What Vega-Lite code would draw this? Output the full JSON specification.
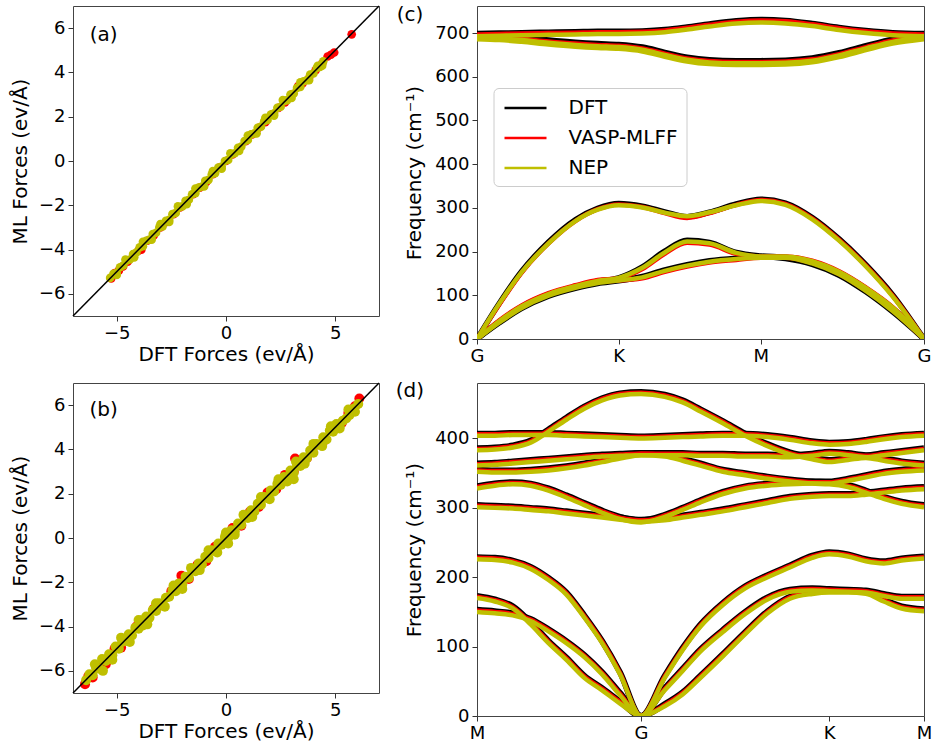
{
"$schema": "https://vega.github.io/schema/vega-lite/v6.json",
"background": "white",
"padding": {"left": 9, "top": 4, "right": 5, "bottom": 5},
"config": {
 "font": "DejaVu Sans",
 "view": {"stroke": "#444", "strokeWidth": 1},
 "axis": {"grid": false, "domain": false, "tickColor": "#333", "tickSize": 5, "labelFontSize": 18, "titleFontSize": 20, "labelFont": "DejaVu Sans", "titleFont": "DejaVu Sans", "titleFontWeight": "normal", "labelColor": "#000", "titleColor": "#000", "labelPadding": 3, "labelFlush": false, "labelOverlap": false},
 "axisX": {"titlePadding": 2},
 "axisY": {"titlePadding": 8}
},
"columns": 2,
"align": "each",
"bounds": "flush",
"spacing": {"row": 44, "column": 98},
"resolve": {"scale": {"color": "independent"}, "legend": {"color": "independent"}},
"datasets": {
 "aV": [{"x":-5.25,"y":-5.3},{"x":-5.09,"y":-5.06},{"x":-4.9,"y":-4.95},{"x":-4.71,"y":-4.76},{"x":-4.5,"y":-4.55},{"x":-4.2,"y":-4.2},{"x":-4.0,"y":-4.05},{"x":-3.87,"y":-4.0},{"x":-3.6,"y":-3.6},{"x":-3.3,"y":-3.35},{"x":-3.0,"y":-3.0},{"x":-2.7,"y":-2.75},{"x":-2.4,"y":-2.4},{"x":-2.1,"y":-2.1},{"x":-1.8,"y":-1.85},{"x":-1.5,"y":-1.5},{"x":-1.2,"y":-1.2},{"x":-0.9,"y":-0.95},{"x":-0.6,"y":-0.6},{"x":-0.3,"y":-0.3},{"x":0.0,"y":0.0},{"x":0.3,"y":0.3},{"x":0.6,"y":0.55},{"x":0.9,"y":0.9},{"x":1.2,"y":1.2},{"x":1.5,"y":1.5},{"x":1.8,"y":1.75},{"x":2.1,"y":2.1},{"x":2.4,"y":2.4},{"x":2.7,"y":2.65},{"x":3.0,"y":3.0},{"x":3.3,"y":3.38},{"x":3.5,"y":3.5},{"x":3.8,"y":3.75},{"x":4.1,"y":4.1},{"x":4.4,"y":4.4},{"x":4.65,"y":4.72},{"x":4.8,"y":4.8},{"x":4.95,"y":4.9},{"x":5.75,"y":5.72}],
 "aN": [{"x":-5.3,"y":-5.28},{"x":-5.15,"y":-5.1},{"x":-5.0,"y":-5.05},{"x":-4.85,"y":-4.8},{"x":-4.7,"y":-4.72},{"x":-4.55,"y":-4.5},{"x":-4.4,"y":-4.45},{"x":-4.25,"y":-4.2},{"x":-4.1,"y":-4.13},{"x":-3.95,"y":-3.9},{"x":-3.8,"y":-3.85},{"x":-3.65,"y":-3.6},{"x":-3.5,"y":-3.55},{"x":-3.35,"y":-3.3},{"x":-3.2,"y":-3.24},{"x":-3.05,"y":-3.0},{"x":-2.9,"y":-2.95},{"x":-2.75,"y":-2.7},{"x":-2.6,"y":-2.66},{"x":-2.45,"y":-2.4},{"x":-2.3,"y":-2.35},{"x":-2.15,"y":-2.1},{"x":-2.0,"y":-2.05},{"x":-1.85,"y":-1.8},{"x":-1.7,"y":-1.75},{"x":-1.55,"y":-1.5},{"x":-1.4,"y":-1.45},{"x":-1.25,"y":-1.2},{"x":-1.1,"y":-1.15},{"x":-0.95,"y":-0.9},{"x":-0.8,"y":-0.85},{"x":-0.65,"y":-0.6},{"x":-0.5,"y":-0.55},{"x":-0.35,"y":-0.3},{"x":-0.2,"y":-0.25},{"x":-0.05,"y":0.0},{"x":0.1,"y":0.05},{"x":0.25,"y":0.3},{"x":0.4,"y":0.35},{"x":0.55,"y":0.6},{"x":0.7,"y":0.65},{"x":0.85,"y":0.9},{"x":1.0,"y":0.95},{"x":1.15,"y":1.2},{"x":1.3,"y":1.25},{"x":1.45,"y":1.5},{"x":1.6,"y":1.55},{"x":1.75,"y":1.8},{"x":1.9,"y":1.85},{"x":2.05,"y":2.1},{"x":2.2,"y":2.15},{"x":2.35,"y":2.4},{"x":2.5,"y":2.45},{"x":2.65,"y":2.7},{"x":2.8,"y":2.75},{"x":2.95,"y":3.0},{"x":3.1,"y":3.05},{"x":3.25,"y":3.3},{"x":3.4,"y":3.35},{"x":3.55,"y":3.6},{"x":3.7,"y":3.65},{"x":3.85,"y":3.9},{"x":4.0,"y":3.95},{"x":4.15,"y":4.2},{"x":4.3,"y":4.25},{"x":4.45,"y":4.5},
{"x":-5.0,"y":-5.15},{"x":-4.6,"y":-4.45},{"x":-4.2,"y":-4.35},{"x":-3.8,"y":-3.65},{"x":-3.4,"y":-3.55},{"x":-3.0,"y":-2.85},{"x":-2.6,"y":-2.75},{"x":-2.2,"y":-2.05},{"x":-1.8,"y":-1.95},{"x":-1.4,"y":-1.25},{"x":-1.0,"y":-1.15},{"x":-0.6,"y":-0.45},{"x":-0.2,"y":-0.35},{"x":0.2,"y":0.35},{"x":0.6,"y":0.45},{"x":1.0,"y":1.15},{"x":1.4,"y":1.25},{"x":1.8,"y":1.95},{"x":2.2,"y":2.05},{"x":2.6,"y":2.75},{"x":3.0,"y":2.85},{"x":3.4,"y":3.55},{"x":3.8,"y":3.65},{"x":4.2,"y":4.3},{"x":4.4,"y":4.3}],
 "bV": [{"x":-6.45,"y":-6.6},{"x":-6.3,"y":-6.25},{"x":-6.1,"y":-6.3},{"x":-5.9,"y":-5.8},{"x":-5.5,"y":-5.7},{"x":-5.1,"y":-5.0},{"x":-4.8,"y":-4.95},{"x":-4.45,"y":-4.5},{"x":-4.1,"y":-4.0},{"x":-3.7,"y":-3.85},{"x":-3.3,"y":-3.2},{"x":-2.9,"y":-3.05},{"x":-2.5,"y":-2.4},{"x":-2.04,"y":-1.7},{"x":-1.7,"y":-1.85},{"x":-1.3,"y":-1.2},{"x":-0.9,"y":-1.05},{"x":-0.5,"y":-0.4},{"x":-0.1,"y":-0.2},{"x":0.3,"y":0.45},{"x":0.7,"y":0.55},{"x":1.1,"y":1.2},{"x":1.5,"y":1.4},{"x":1.9,"y":2.05},{"x":2.3,"y":2.2},{"x":2.7,"y":2.85},{"x":3.1,"y":3.0},{"x":3.16,"y":3.59},{"x":3.7,"y":3.6},{"x":4.1,"y":4.2},{"x":4.5,"y":4.4},{"x":4.9,"y":5.0},{"x":5.3,"y":5.2},{"x":5.6,"y":5.65},{"x":5.9,"y":5.95},{"x":6.1,"y":6.3}],
 "bN": [{"x":-6.4,"y":-6.42},{"x":-6.25,"y":-6.15},{"x":-6.1,"y":-6.2},{"x":-5.95,"y":-5.85},{"x":-5.8,"y":-5.9},{"x":-5.67,"y":-5.47},{"x":-5.63,"y":-6.0},{"x":-5.5,"y":-5.55},{"x":-5.35,"y":-5.25},{"x":-5.2,"y":-5.3},{"x":-5.05,"y":-4.9},{"x":-4.9,"y":-5.0},{"x":-4.75,"y":-4.7},{"x":-4.6,"y":-4.65},{"x":-4.45,"y":-4.35},{"x":-4.3,"y":-4.4},{"x":-4.15,"y":-4.05},{"x":-4.0,"y":-4.1},{"x":-3.85,"y":-3.72},{"x":-3.8,"y":-3.95},{"x":-3.65,"y":-3.55},{"x":-3.5,"y":-3.6},{"x":-3.35,"y":-3.25},{"x":-3.2,"y":-3.3},{"x":-3.05,"y":-2.95},{"x":-2.9,"y":-3.0},{"x":-2.75,"y":-2.7},{"x":-2.6,"y":-2.65},{"x":-2.45,"y":-2.35},{"x":-2.3,"y":-2.4},{"x":-2.15,"y":-2.05},{"x":-2.0,"y":-2.1},{"x":-1.85,"y":-1.75},{"x":-1.7,"y":-1.8},{"x":-1.55,"y":-1.45},{"x":-1.4,"y":-1.5},{"x":-1.25,"y":-1.15},{"x":-1.1,"y":-1.2},{"x":-0.95,"y":-0.85},{"x":-0.8,"y":-0.9},{"x":-0.65,"y":-0.55},{"x":-0.5,"y":-0.6},{"x":-0.35,"y":-0.25},{"x":-0.2,"y":-0.3},{"x":-0.05,"y":0.05},{"x":0.1,"y":-0.25},{"x":0.1,"y":0.0},{"x":0.25,"y":0.35},{"x":0.4,"y":0.3},{"x":0.55,"y":0.65},{"x":0.7,"y":0.6},{"x":0.85,"y":0.95},{"x":1.0,"y":0.9},{"x":1.15,"y":1.25},{"x":1.3,"y":1.2},{"x":1.45,"y":1.55},{"x":1.6,"y":1.5},{"x":1.75,"y":1.85},{"x":1.9,"y":1.8},{"x":2.05,"y":2.15},{"x":2.2,"y":2.1},{"x":2.35,"y":2.45},{"x":2.5,"y":2.4},{"x":2.65,"y":2.75},{"x":2.8,"y":2.7},{"x":2.95,"y":3.05},{"x":3.1,"y":2.65},{"x":3.1,"y":2.95},{"x":3.25,"y":3.3},{"x":3.4,"y":3.25},{"x":3.55,"y":3.65},{"x":3.7,"y":3.6},{"x":3.85,"y":3.95},{"x":4.0,"y":3.85},{"x":4.15,"y":4.25},{"x":4.3,"y":4.2},{"x":4.45,"y":4.55},{"x":4.6,"y":4.45},{"x":4.75,"y":4.85},{"x":4.9,"y":4.8},{"x":5.05,"y":5.15},{"x":5.2,"y":5.05},{"x":5.35,"y":5.3},{"x":5.5,"y":5.4},{"x":5.65,"y":5.55},{"x":5.85,"y":5.85},{"x":6.05,"y":6.05},
{"x":-6.0,"y":-5.7},{"x":-5.2,"y":-5.5},{"x":-4.8,"y":-4.5},{"x":-4.4,"y":-4.7},{"x":-4.0,"y":-3.7},{"x":-3.6,"y":-3.9},{"x":-3.2,"y":-2.95},{"x":-2.8,"y":-3.1},{"x":-2.4,"y":-2.15},{"x":-2.0,"y":-2.3},{"x":-1.6,"y":-1.35},{"x":-1.2,"y":-1.45},{"x":-0.8,"y":-0.55},{"x":-0.4,"y":-0.65},{"x":0.0,"y":0.25},{"x":0.4,"y":0.15},{"x":0.8,"y":1.05},{"x":1.2,"y":0.95},{"x":1.6,"y":1.85},{"x":2.0,"y":1.75},{"x":2.4,"y":2.65},{"x":2.8,"y":2.55},{"x":3.2,"y":3.45},{"x":3.6,"y":3.35},{"x":4.0,"y":4.25},{"x":4.4,"y":4.15},{"x":4.8,"y":5.05},{"x":5.2,"y":4.95},{"x":5.6,"y":5.8},{"x":5.9,"y":5.7}],
 "cD": [
{"b":1,"k":0,"f":0},{"b":1,"k":0.05,"f":37},{"b":1,"k":0.1,"f":70},{"b":1,"k":0.16,"f":98},{"b":1,"k":0.22,"f":116},{"b":1,"k":0.27,"f":127},{"b":1,"k":0.317,"f":133},{"b":1,"k":0.37,"f":143},{"b":1,"k":0.42,"f":158},{"b":1,"k":0.47,"f":170},{"b":1,"k":0.52,"f":179},{"b":1,"k":0.58,"f":185},{"b":1,"k":0.635,"f":188},{"b":1,"k":0.69,"f":184},{"b":1,"k":0.75,"f":171},{"b":1,"k":0.81,"f":146},{"b":1,"k":0.87,"f":108},{"b":1,"k":0.93,"f":62},{"b":1,"k":1,"f":0},
{"b":2,"k":0,"f":0},{"b":2,"k":0.05,"f":40},{"b":2,"k":0.1,"f":74},{"b":2,"k":0.16,"f":102},{"b":2,"k":0.22,"f":120},{"b":2,"k":0.27,"f":132},{"b":2,"k":0.317,"f":140},{"b":2,"k":0.37,"f":165},{"b":2,"k":0.42,"f":201},{"b":2,"k":0.47,"f":226},{"b":2,"k":0.52,"f":221},{"b":2,"k":0.58,"f":198},{"b":2,"k":0.635,"f":190},{"b":2,"k":0.69,"f":187},{"b":2,"k":0.75,"f":176},{"b":2,"k":0.81,"f":152},{"b":2,"k":0.87,"f":115},{"b":2,"k":0.93,"f":70},{"b":2,"k":1,"f":0},
{"b":3,"k":0,"f":0},{"b":3,"k":0.05,"f":82},{"b":3,"k":0.1,"f":155},{"b":3,"k":0.16,"f":222},{"b":3,"k":0.22,"f":273},{"b":3,"k":0.27,"f":299},{"b":3,"k":0.317,"f":310},{"b":3,"k":0.37,"f":304},{"b":3,"k":0.42,"f":291},{"b":3,"k":0.47,"f":280},{"b":3,"k":0.52,"f":290},{"b":3,"k":0.58,"f":309},{"b":3,"k":0.635,"f":320},{"b":3,"k":0.69,"f":311},{"b":3,"k":0.75,"f":278},{"b":3,"k":0.81,"f":229},{"b":3,"k":0.87,"f":170},{"b":3,"k":0.93,"f":101},{"b":3,"k":1,"f":0},
{"b":4,"k":0,"f":692},{"b":4,"k":0.05,"f":690},{"b":4,"k":0.1,"f":686},{"b":4,"k":0.16,"f":680},{"b":4,"k":0.22,"f":675},{"b":4,"k":0.27,"f":672},{"b":4,"k":0.317,"f":670},{"b":4,"k":0.37,"f":664},{"b":4,"k":0.42,"f":652},{"b":4,"k":0.47,"f":641},{"b":4,"k":0.52,"f":635},{"b":4,"k":0.58,"f":633},{"b":4,"k":0.635,"f":633},{"b":4,"k":0.69,"f":634},{"b":4,"k":0.75,"f":639},{"b":4,"k":0.81,"f":651},{"b":4,"k":0.87,"f":667},{"b":4,"k":0.93,"f":682},{"b":4,"k":1,"f":692},
{"b":5,"k":0,"f":696},{"b":5,"k":0.05,"f":694},{"b":5,"k":0.1,"f":690},{"b":5,"k":0.16,"f":684},{"b":5,"k":0.22,"f":679},{"b":5,"k":0.27,"f":676},{"b":5,"k":0.317,"f":674},{"b":5,"k":0.37,"f":668},{"b":5,"k":0.42,"f":656},{"b":5,"k":0.47,"f":645},{"b":5,"k":0.52,"f":639},{"b":5,"k":0.58,"f":637},{"b":5,"k":0.635,"f":637},{"b":5,"k":0.69,"f":638},{"b":5,"k":0.75,"f":643},{"b":5,"k":0.81,"f":655},{"b":5,"k":0.87,"f":671},{"b":5,"k":0.93,"f":686},{"b":5,"k":1,"f":696},
{"b":6,"k":0,"f":699},{"b":6,"k":0.05,"f":700},{"b":6,"k":0.1,"f":701},{"b":6,"k":0.16,"f":702},{"b":6,"k":0.22,"f":703},{"b":6,"k":0.27,"f":704},{"b":6,"k":0.317,"f":704},{"b":6,"k":0.37,"f":705},{"b":6,"k":0.42,"f":708},{"b":6,"k":0.47,"f":714},{"b":6,"k":0.52,"f":721},{"b":6,"k":0.58,"f":728},{"b":6,"k":0.635,"f":731},{"b":6,"k":0.69,"f":729},{"b":6,"k":0.75,"f":722},{"b":6,"k":0.81,"f":713},{"b":6,"k":0.87,"f":706},{"b":6,"k":0.93,"f":701},{"b":6,"k":1,"f":699}],
 "cV": [
{"b":1,"k":0,"f":0},{"b":1,"k":0.05,"f":40},{"b":1,"k":0.1,"f":73},{"b":1,"k":0.16,"f":101},{"b":1,"k":0.22,"f":119},{"b":1,"k":0.27,"f":130},{"b":1,"k":0.317,"f":134},{"b":1,"k":0.37,"f":139},{"b":1,"k":0.42,"f":154},{"b":1,"k":0.47,"f":166},{"b":1,"k":0.52,"f":175},{"b":1,"k":0.58,"f":181},{"b":1,"k":0.635,"f":186},{"b":1,"k":0.69,"f":186},{"b":1,"k":0.75,"f":174},{"b":1,"k":0.81,"f":149},{"b":1,"k":0.87,"f":111},{"b":1,"k":0.93,"f":65},{"b":1,"k":1,"f":0},
{"b":2,"k":0,"f":0},{"b":2,"k":0.05,"f":43},{"b":2,"k":0.1,"f":77},{"b":2,"k":0.16,"f":105},{"b":2,"k":0.22,"f":123},{"b":2,"k":0.27,"f":135},{"b":2,"k":0.317,"f":139},{"b":2,"k":0.37,"f":160},{"b":2,"k":0.42,"f":195},{"b":2,"k":0.47,"f":220},{"b":2,"k":0.52,"f":216},{"b":2,"k":0.58,"f":195},{"b":2,"k":0.635,"f":189},{"b":2,"k":0.69,"f":189},{"b":2,"k":0.75,"f":179},{"b":2,"k":0.81,"f":155},{"b":2,"k":0.87,"f":118},{"b":2,"k":0.93,"f":73},{"b":2,"k":1,"f":0},
{"b":3,"k":0,"f":0},{"b":3,"k":0.05,"f":79},{"b":3,"k":0.1,"f":152},{"b":3,"k":0.16,"f":219},{"b":3,"k":0.22,"f":270},{"b":3,"k":0.27,"f":297},{"b":3,"k":0.317,"f":308},{"b":3,"k":0.37,"f":302},{"b":3,"k":0.42,"f":288},{"b":3,"k":0.47,"f":277},{"b":3,"k":0.52,"f":288},{"b":3,"k":0.58,"f":307},{"b":3,"k":0.635,"f":318},{"b":3,"k":0.69,"f":309},{"b":3,"k":0.75,"f":276},{"b":3,"k":0.81,"f":227},{"b":3,"k":0.87,"f":168},{"b":3,"k":0.93,"f":99},{"b":3,"k":1,"f":0},
{"b":4,"k":0,"f":689},{"b":4,"k":0.05,"f":687},{"b":4,"k":0.1,"f":683},{"b":4,"k":0.16,"f":677},{"b":4,"k":0.22,"f":672},{"b":4,"k":0.27,"f":669},{"b":4,"k":0.317,"f":667},{"b":4,"k":0.37,"f":661},{"b":4,"k":0.42,"f":649},{"b":4,"k":0.47,"f":638},{"b":4,"k":0.52,"f":632},{"b":4,"k":0.58,"f":630},{"b":4,"k":0.635,"f":630},{"b":4,"k":0.69,"f":631},{"b":4,"k":0.75,"f":636},{"b":4,"k":0.81,"f":648},{"b":4,"k":0.87,"f":664},{"b":4,"k":0.93,"f":679},{"b":4,"k":1,"f":689},
{"b":5,"k":0,"f":693},{"b":5,"k":0.05,"f":691},{"b":5,"k":0.1,"f":687},{"b":5,"k":0.16,"f":681},{"b":5,"k":0.22,"f":676},{"b":5,"k":0.27,"f":673},{"b":5,"k":0.317,"f":671},{"b":5,"k":0.37,"f":665},{"b":5,"k":0.42,"f":653},{"b":5,"k":0.47,"f":642},{"b":5,"k":0.52,"f":636},{"b":5,"k":0.58,"f":634},{"b":5,"k":0.635,"f":634},{"b":5,"k":0.69,"f":635},{"b":5,"k":0.75,"f":640},{"b":5,"k":0.81,"f":652},{"b":5,"k":0.87,"f":668},{"b":5,"k":0.93,"f":683},{"b":5,"k":1,"f":693},
{"b":6,"k":0,"f":697},{"b":6,"k":0.05,"f":698},{"b":6,"k":0.1,"f":699},{"b":6,"k":0.16,"f":700},{"b":6,"k":0.22,"f":701},{"b":6,"k":0.27,"f":702},{"b":6,"k":0.317,"f":702},{"b":6,"k":0.37,"f":703},{"b":6,"k":0.42,"f":706},{"b":6,"k":0.47,"f":712},{"b":6,"k":0.52,"f":719},{"b":6,"k":0.58,"f":726},{"b":6,"k":0.635,"f":729},{"b":6,"k":0.69,"f":727},{"b":6,"k":0.75,"f":720},{"b":6,"k":0.81,"f":711},{"b":6,"k":0.87,"f":704},{"b":6,"k":0.93,"f":699},{"b":6,"k":1,"f":697}],
 "cN": [
{"b":1,"k":0,"f":0},{"b":1,"k":0.05,"f":38},{"b":1,"k":0.1,"f":71},{"b":1,"k":0.16,"f":99},{"b":1,"k":0.22,"f":117},{"b":1,"k":0.27,"f":128},{"b":1,"k":0.317,"f":134},{"b":1,"k":0.37,"f":141},{"b":1,"k":0.42,"f":156},{"b":1,"k":0.47,"f":168},{"b":1,"k":0.52,"f":177},{"b":1,"k":0.58,"f":183},{"b":1,"k":0.635,"f":186},{"b":1,"k":0.69,"f":186},{"b":1,"k":0.75,"f":173},{"b":1,"k":0.81,"f":148},{"b":1,"k":0.87,"f":110},{"b":1,"k":0.93,"f":64},{"b":1,"k":1,"f":0},
{"b":2,"k":0,"f":0},{"b":2,"k":0.05,"f":41},{"b":2,"k":0.1,"f":75},{"b":2,"k":0.16,"f":103},{"b":2,"k":0.22,"f":121},{"b":2,"k":0.27,"f":133},{"b":2,"k":0.317,"f":140},{"b":2,"k":0.37,"f":163},{"b":2,"k":0.42,"f":198},{"b":2,"k":0.47,"f":223},{"b":2,"k":0.52,"f":219},{"b":2,"k":0.58,"f":197},{"b":2,"k":0.635,"f":189},{"b":2,"k":0.69,"f":189},{"b":2,"k":0.75,"f":178},{"b":2,"k":0.81,"f":154},{"b":2,"k":0.87,"f":117},{"b":2,"k":0.93,"f":72},{"b":2,"k":1,"f":0},
{"b":3,"k":0,"f":0},{"b":3,"k":0.05,"f":81},{"b":3,"k":0.1,"f":153},{"b":3,"k":0.16,"f":219},{"b":3,"k":0.22,"f":270},{"b":3,"k":0.27,"f":296},{"b":3,"k":0.317,"f":306},{"b":3,"k":0.37,"f":301},{"b":3,"k":0.42,"f":289},{"b":3,"k":0.47,"f":281},{"b":3,"k":0.52,"f":290},{"b":3,"k":0.58,"f":306},{"b":3,"k":0.635,"f":316},{"b":3,"k":0.69,"f":307},{"b":3,"k":0.75,"f":274},{"b":3,"k":0.81,"f":225},{"b":3,"k":0.87,"f":166},{"b":3,"k":0.93,"f":97},{"b":3,"k":1,"f":0},
{"b":4,"k":0,"f":686},{"b":4,"k":0.05,"f":684},{"b":4,"k":0.1,"f":680},{"b":4,"k":0.16,"f":674},{"b":4,"k":0.22,"f":669},{"b":4,"k":0.27,"f":666},{"b":4,"k":0.317,"f":664},{"b":4,"k":0.37,"f":658},{"b":4,"k":0.42,"f":646},{"b":4,"k":0.47,"f":635},{"b":4,"k":0.52,"f":629},{"b":4,"k":0.58,"f":627},{"b":4,"k":0.635,"f":627},{"b":4,"k":0.69,"f":628},{"b":4,"k":0.75,"f":633},{"b":4,"k":0.81,"f":645},{"b":4,"k":0.87,"f":661},{"b":4,"k":0.93,"f":676},{"b":4,"k":1,"f":686},
{"b":5,"k":0,"f":690},{"b":5,"k":0.05,"f":688},{"b":5,"k":0.1,"f":684},{"b":5,"k":0.16,"f":678},{"b":5,"k":0.22,"f":673},{"b":5,"k":0.27,"f":670},{"b":5,"k":0.317,"f":668},{"b":5,"k":0.37,"f":662},{"b":5,"k":0.42,"f":650},{"b":5,"k":0.47,"f":639},{"b":5,"k":0.52,"f":633},{"b":5,"k":0.58,"f":631},{"b":5,"k":0.635,"f":631},{"b":5,"k":0.69,"f":632},{"b":5,"k":0.75,"f":637},{"b":5,"k":0.81,"f":649},{"b":5,"k":0.87,"f":665},{"b":5,"k":0.93,"f":680},{"b":5,"k":1,"f":690},
{"b":6,"k":0,"f":693},{"b":6,"k":0.05,"f":694},{"b":6,"k":0.1,"f":695},{"b":6,"k":0.16,"f":696},{"b":6,"k":0.22,"f":697},{"b":6,"k":0.27,"f":698},{"b":6,"k":0.317,"f":698},{"b":6,"k":0.37,"f":699},{"b":6,"k":0.42,"f":702},{"b":6,"k":0.47,"f":708},{"b":6,"k":0.52,"f":715},{"b":6,"k":0.58,"f":722},{"b":6,"k":0.635,"f":724},{"b":6,"k":0.69,"f":722},{"b":6,"k":0.75,"f":716},{"b":6,"k":0.81,"f":707},{"b":6,"k":0.87,"f":700},{"b":6,"k":0.93,"f":695},{"b":6,"k":1,"f":693}],
 "dD": [
{"b":1,"k":0,"f":153},{"b":1,"k":0.04,"f":151},{"b":1,"k":0.08,"f":148},{"b":1,"k":0.12,"f":140},{"b":1,"k":0.16,"f":125},{"b":1,"k":0.2,"f":108},{"b":1,"k":0.24,"f":88},{"b":1,"k":0.28,"f":63},{"b":1,"k":0.32,"f":33},{"b":1,"k":0.367,"f":0},{"b":1,"k":0.42,"f":17},{"b":1,"k":0.46,"f":34},{"b":1,"k":0.5,"f":58},{"b":1,"k":0.55,"f":89},{"b":1,"k":0.6,"f":121},{"b":1,"k":0.65,"f":151},{"b":1,"k":0.7,"f":172},{"b":1,"k":0.75,"f":179},{"b":1,"k":0.788,"f":181},{"b":1,"k":0.83,"f":181},{"b":1,"k":0.87,"f":179},{"b":1,"k":0.91,"f":168},{"b":1,"k":0.95,"f":158},{"b":1,"k":1,"f":154},
{"b":2,"k":0,"f":173},{"b":2,"k":0.04,"f":168},{"b":2,"k":0.08,"f":158},{"b":2,"k":0.12,"f":135},{"b":2,"k":0.16,"f":108},{"b":2,"k":0.2,"f":84},{"b":2,"k":0.24,"f":58},{"b":2,"k":0.28,"f":40},{"b":2,"k":0.32,"f":21},{"b":2,"k":0.367,"f":0},{"b":2,"k":0.42,"f":40},{"b":2,"k":0.46,"f":68},{"b":2,"k":0.5,"f":96},{"b":2,"k":0.55,"f":124},{"b":2,"k":0.6,"f":150},{"b":2,"k":0.65,"f":171},{"b":2,"k":0.7,"f":182},{"b":2,"k":0.75,"f":184},{"b":2,"k":0.788,"f":183},{"b":2,"k":0.83,"f":182},{"b":2,"k":0.87,"f":181},{"b":2,"k":0.91,"f":176},{"b":2,"k":0.95,"f":172},{"b":2,"k":1,"f":172},
{"b":3,"k":0,"f":229},{"b":3,"k":0.04,"f":228},{"b":3,"k":0.08,"f":224},{"b":3,"k":0.12,"f":215},{"b":3,"k":0.16,"f":199},{"b":3,"k":0.2,"f":178},{"b":3,"k":0.24,"f":145},{"b":3,"k":0.28,"f":108},{"b":3,"k":0.32,"f":63},{"b":3,"k":0.367,"f":0},{"b":3,"k":0.42,"f":58},{"b":3,"k":0.46,"f":98},{"b":3,"k":0.5,"f":132},{"b":3,"k":0.55,"f":163},{"b":3,"k":0.6,"f":187},{"b":3,"k":0.65,"f":203},{"b":3,"k":0.7,"f":217},{"b":3,"k":0.75,"f":231},{"b":3,"k":0.788,"f":236},{"b":3,"k":0.83,"f":233},{"b":3,"k":0.87,"f":226},{"b":3,"k":0.91,"f":223},{"b":3,"k":0.95,"f":227},{"b":3,"k":1,"f":230},
{"b":4,"k":0,"f":304},{"b":4,"k":0.04,"f":303},{"b":4,"k":0.08,"f":302},{"b":4,"k":0.12,"f":300},{"b":4,"k":0.16,"f":298},{"b":4,"k":0.2,"f":295},{"b":4,"k":0.24,"f":292},{"b":4,"k":0.28,"f":289},{"b":4,"k":0.32,"f":286},{"b":4,"k":0.367,"f":283},{"b":4,"k":0.42,"f":285},{"b":4,"k":0.46,"f":289},{"b":4,"k":0.5,"f":293},{"b":4,"k":0.55,"f":298},{"b":4,"k":0.6,"f":304},{"b":4,"k":0.65,"f":310},{"b":4,"k":0.7,"f":316},{"b":4,"k":0.75,"f":319},{"b":4,"k":0.788,"f":320},{"b":4,"k":0.83,"f":320},{"b":4,"k":0.87,"f":322},{"b":4,"k":0.91,"f":325},{"b":4,"k":0.95,"f":328},{"b":4,"k":1,"f":330},
{"b":5,"k":0,"f":331},{"b":5,"k":0.04,"f":335},{"b":5,"k":0.08,"f":337},{"b":5,"k":0.12,"f":335},{"b":5,"k":0.16,"f":328},{"b":5,"k":0.2,"f":318},{"b":5,"k":0.24,"f":307},{"b":5,"k":0.28,"f":296},{"b":5,"k":0.32,"f":287},{"b":5,"k":0.367,"f":282},{"b":5,"k":0.42,"f":290},{"b":5,"k":0.46,"f":300},{"b":5,"k":0.5,"f":311},{"b":5,"k":0.55,"f":323},{"b":5,"k":0.6,"f":331},{"b":5,"k":0.65,"f":335},{"b":5,"k":0.7,"f":337},{"b":5,"k":0.75,"f":338},{"b":5,"k":0.788,"f":338},{"b":5,"k":0.83,"f":342},{"b":5,"k":0.87,"f":347},{"b":5,"k":0.91,"f":352},{"b":5,"k":0.95,"f":355},{"b":5,"k":1,"f":357},
{"b":6,"k":0,"f":355},{"b":6,"k":0.04,"f":354},{"b":6,"k":0.08,"f":354},{"b":6,"k":0.12,"f":355},{"b":6,"k":0.16,"f":357},{"b":6,"k":0.2,"f":360},{"b":6,"k":0.24,"f":364},{"b":6,"k":0.28,"f":369},{"b":6,"k":0.32,"f":374},{"b":6,"k":0.367,"f":379},{"b":6,"k":0.42,"f":377},{"b":6,"k":0.46,"f":371},{"b":6,"k":0.5,"f":364},{"b":6,"k":0.55,"f":355},{"b":6,"k":0.6,"f":350},{"b":6,"k":0.65,"f":345},{"b":6,"k":0.7,"f":341},{"b":6,"k":0.75,"f":338},{"b":6,"k":0.788,"f":337},{"b":6,"k":0.83,"f":333},{"b":6,"k":0.87,"f":325},{"b":6,"k":0.91,"f":316},{"b":6,"k":0.95,"f":309},{"b":6,"k":1,"f":304},
{"b":7,"k":0,"f":364},{"b":7,"k":0.04,"f":365},{"b":7,"k":0.08,"f":367},{"b":7,"k":0.12,"f":369},{"b":7,"k":0.16,"f":371},{"b":7,"k":0.2,"f":373},{"b":7,"k":0.24,"f":375},{"b":7,"k":0.28,"f":377},{"b":7,"k":0.32,"f":378},{"b":7,"k":0.367,"f":379},{"b":7,"k":0.42,"f":379},{"b":7,"k":0.46,"f":379},{"b":7,"k":0.5,"f":378},{"b":7,"k":0.55,"f":378},{"b":7,"k":0.6,"f":377},{"b":7,"k":0.65,"f":377},{"b":7,"k":0.7,"f":376},{"b":7,"k":0.75,"f":378},{"b":7,"k":0.788,"f":381},{"b":7,"k":0.83,"f":379},{"b":7,"k":0.87,"f":376},{"b":7,"k":0.91,"f":379},{"b":7,"k":0.95,"f":382},{"b":7,"k":1,"f":386},
{"b":8,"k":0,"f":386},{"b":8,"k":0.04,"f":387},{"b":8,"k":0.08,"f":390},{"b":8,"k":0.12,"f":397},{"b":8,"k":0.16,"f":413},{"b":8,"k":0.2,"f":430},{"b":8,"k":0.24,"f":446},{"b":8,"k":0.28,"f":458},{"b":8,"k":0.32,"f":465},{"b":8,"k":0.367,"f":467},{"b":8,"k":0.42,"f":463},{"b":8,"k":0.46,"f":455},{"b":8,"k":0.5,"f":442},{"b":8,"k":0.55,"f":425},{"b":8,"k":0.6,"f":407},{"b":8,"k":0.65,"f":392},{"b":8,"k":0.7,"f":380},{"b":8,"k":0.75,"f":373},{"b":8,"k":0.788,"f":369},{"b":8,"k":0.83,"f":372},{"b":8,"k":0.87,"f":375},{"b":8,"k":0.91,"f":371},{"b":8,"k":0.95,"f":367},{"b":8,"k":1,"f":364},
{"b":9,"k":0,"f":407},{"b":9,"k":0.04,"f":407},{"b":9,"k":0.08,"f":408},{"b":9,"k":0.12,"f":408},{"b":9,"k":0.16,"f":408},{"b":9,"k":0.2,"f":407},{"b":9,"k":0.24,"f":406},{"b":9,"k":0.28,"f":405},{"b":9,"k":0.32,"f":404},{"b":9,"k":0.367,"f":403},{"b":9,"k":0.42,"f":404},{"b":9,"k":0.46,"f":405},{"b":9,"k":0.5,"f":406},{"b":9,"k":0.55,"f":407},{"b":9,"k":0.6,"f":407},{"b":9,"k":0.65,"f":405},{"b":9,"k":0.7,"f":401},{"b":9,"k":0.75,"f":396},{"b":9,"k":0.788,"f":394},{"b":9,"k":0.83,"f":395},{"b":9,"k":0.87,"f":398},{"b":9,"k":0.91,"f":402},{"b":9,"k":0.95,"f":405},{"b":9,"k":1,"f":407}],
 "dV": [
{"b":1,"k":0,"f":152},{"b":1,"k":0.04,"f":150},{"b":1,"k":0.08,"f":147},{"b":1,"k":0.12,"f":139},{"b":1,"k":0.16,"f":124},{"b":1,"k":0.2,"f":107},{"b":1,"k":0.24,"f":87},{"b":1,"k":0.28,"f":62},{"b":1,"k":0.32,"f":32},{"b":1,"k":0.367,"f":0},{"b":1,"k":0.42,"f":16},{"b":1,"k":0.46,"f":33},{"b":1,"k":0.5,"f":57},{"b":1,"k":0.55,"f":88},{"b":1,"k":0.6,"f":120},{"b":1,"k":0.65,"f":150},{"b":1,"k":0.7,"f":171},{"b":1,"k":0.75,"f":178},{"b":1,"k":0.788,"f":180},{"b":1,"k":0.83,"f":180},{"b":1,"k":0.87,"f":178},{"b":1,"k":0.91,"f":167},{"b":1,"k":0.95,"f":157},{"b":1,"k":1,"f":153},
{"b":2,"k":0,"f":172},{"b":2,"k":0.04,"f":167},{"b":2,"k":0.08,"f":157},{"b":2,"k":0.12,"f":134},{"b":2,"k":0.16,"f":107},{"b":2,"k":0.2,"f":83},{"b":2,"k":0.24,"f":57},{"b":2,"k":0.28,"f":39},{"b":2,"k":0.32,"f":20},{"b":2,"k":0.367,"f":0},{"b":2,"k":0.42,"f":39},{"b":2,"k":0.46,"f":67},{"b":2,"k":0.5,"f":95},{"b":2,"k":0.55,"f":123},{"b":2,"k":0.6,"f":149},{"b":2,"k":0.65,"f":170},{"b":2,"k":0.7,"f":181},{"b":2,"k":0.75,"f":183},{"b":2,"k":0.788,"f":182},{"b":2,"k":0.83,"f":181},{"b":2,"k":0.87,"f":180},{"b":2,"k":0.91,"f":175},{"b":2,"k":0.95,"f":171},{"b":2,"k":1,"f":171},
{"b":3,"k":0,"f":228},{"b":3,"k":0.04,"f":227},{"b":3,"k":0.08,"f":223},{"b":3,"k":0.12,"f":214},{"b":3,"k":0.16,"f":198},{"b":3,"k":0.2,"f":177},{"b":3,"k":0.24,"f":144},{"b":3,"k":0.28,"f":107},{"b":3,"k":0.32,"f":62},{"b":3,"k":0.367,"f":0},{"b":3,"k":0.42,"f":57},{"b":3,"k":0.46,"f":97},{"b":3,"k":0.5,"f":131},{"b":3,"k":0.55,"f":162},{"b":3,"k":0.6,"f":186},{"b":3,"k":0.65,"f":202},{"b":3,"k":0.7,"f":216},{"b":3,"k":0.75,"f":230},{"b":3,"k":0.788,"f":235},{"b":3,"k":0.83,"f":232},{"b":3,"k":0.87,"f":225},{"b":3,"k":0.91,"f":222},{"b":3,"k":0.95,"f":226},{"b":3,"k":1,"f":229},
{"b":4,"k":0,"f":303},{"b":4,"k":0.04,"f":302},{"b":4,"k":0.08,"f":301},{"b":4,"k":0.12,"f":299},{"b":4,"k":0.16,"f":297},{"b":4,"k":0.2,"f":294},{"b":4,"k":0.24,"f":291},{"b":4,"k":0.28,"f":288},{"b":4,"k":0.32,"f":285},{"b":4,"k":0.367,"f":282},{"b":4,"k":0.42,"f":284},{"b":4,"k":0.46,"f":288},{"b":4,"k":0.5,"f":292},{"b":4,"k":0.55,"f":297},{"b":4,"k":0.6,"f":303},{"b":4,"k":0.65,"f":309},{"b":4,"k":0.7,"f":315},{"b":4,"k":0.75,"f":318},{"b":4,"k":0.788,"f":319},{"b":4,"k":0.83,"f":319},{"b":4,"k":0.87,"f":321},{"b":4,"k":0.91,"f":324},{"b":4,"k":0.95,"f":327},{"b":4,"k":1,"f":329},
{"b":5,"k":0,"f":330},{"b":5,"k":0.04,"f":334},{"b":5,"k":0.08,"f":336},{"b":5,"k":0.12,"f":334},{"b":5,"k":0.16,"f":327},{"b":5,"k":0.2,"f":317},{"b":5,"k":0.24,"f":306},{"b":5,"k":0.28,"f":295},{"b":5,"k":0.32,"f":286},{"b":5,"k":0.367,"f":281},{"b":5,"k":0.42,"f":289},{"b":5,"k":0.46,"f":299},{"b":5,"k":0.5,"f":310},{"b":5,"k":0.55,"f":322},{"b":5,"k":0.6,"f":330},{"b":5,"k":0.65,"f":334},{"b":5,"k":0.7,"f":336},{"b":5,"k":0.75,"f":337},{"b":5,"k":0.788,"f":337},{"b":5,"k":0.83,"f":341},{"b":5,"k":0.87,"f":346},{"b":5,"k":0.91,"f":351},{"b":5,"k":0.95,"f":354},{"b":5,"k":1,"f":356},
{"b":6,"k":0,"f":354},{"b":6,"k":0.04,"f":353},{"b":6,"k":0.08,"f":353},{"b":6,"k":0.12,"f":354},{"b":6,"k":0.16,"f":356},{"b":6,"k":0.2,"f":359},{"b":6,"k":0.24,"f":363},{"b":6,"k":0.28,"f":368},{"b":6,"k":0.32,"f":373},{"b":6,"k":0.367,"f":378},{"b":6,"k":0.42,"f":376},{"b":6,"k":0.46,"f":370},{"b":6,"k":0.5,"f":363},{"b":6,"k":0.55,"f":354},{"b":6,"k":0.6,"f":349},{"b":6,"k":0.65,"f":344},{"b":6,"k":0.7,"f":340},{"b":6,"k":0.75,"f":337},{"b":6,"k":0.788,"f":336},{"b":6,"k":0.83,"f":332},{"b":6,"k":0.87,"f":324},{"b":6,"k":0.91,"f":315},{"b":6,"k":0.95,"f":308},{"b":6,"k":1,"f":303},
{"b":7,"k":0,"f":363},{"b":7,"k":0.04,"f":364},{"b":7,"k":0.08,"f":366},{"b":7,"k":0.12,"f":368},{"b":7,"k":0.16,"f":370},{"b":7,"k":0.2,"f":372},{"b":7,"k":0.24,"f":374},{"b":7,"k":0.28,"f":376},{"b":7,"k":0.32,"f":377},{"b":7,"k":0.367,"f":378},{"b":7,"k":0.42,"f":378},{"b":7,"k":0.46,"f":378},{"b":7,"k":0.5,"f":377},{"b":7,"k":0.55,"f":377},{"b":7,"k":0.6,"f":376},{"b":7,"k":0.65,"f":376},{"b":7,"k":0.7,"f":375},{"b":7,"k":0.75,"f":377},{"b":7,"k":0.788,"f":380},{"b":7,"k":0.83,"f":378},{"b":7,"k":0.87,"f":375},{"b":7,"k":0.91,"f":378},{"b":7,"k":0.95,"f":381},{"b":7,"k":1,"f":385},
{"b":8,"k":0,"f":385},{"b":8,"k":0.04,"f":386},{"b":8,"k":0.08,"f":389},{"b":8,"k":0.12,"f":396},{"b":8,"k":0.16,"f":412},{"b":8,"k":0.2,"f":429},{"b":8,"k":0.24,"f":445},{"b":8,"k":0.28,"f":457},{"b":8,"k":0.32,"f":464},{"b":8,"k":0.367,"f":466},{"b":8,"k":0.42,"f":462},{"b":8,"k":0.46,"f":454},{"b":8,"k":0.5,"f":441},{"b":8,"k":0.55,"f":424},{"b":8,"k":0.6,"f":406},{"b":8,"k":0.65,"f":391},{"b":8,"k":0.7,"f":379},{"b":8,"k":0.75,"f":372},{"b":8,"k":0.788,"f":368},{"b":8,"k":0.83,"f":371},{"b":8,"k":0.87,"f":374},{"b":8,"k":0.91,"f":370},{"b":8,"k":0.95,"f":366},{"b":8,"k":1,"f":363},
{"b":9,"k":0,"f":406},{"b":9,"k":0.04,"f":406},{"b":9,"k":0.08,"f":407},{"b":9,"k":0.12,"f":407},{"b":9,"k":0.16,"f":407},{"b":9,"k":0.2,"f":406},{"b":9,"k":0.24,"f":405},{"b":9,"k":0.28,"f":404},{"b":9,"k":0.32,"f":403},{"b":9,"k":0.367,"f":402},{"b":9,"k":0.42,"f":403},{"b":9,"k":0.46,"f":404},{"b":9,"k":0.5,"f":405},{"b":9,"k":0.55,"f":406},{"b":9,"k":0.6,"f":406},{"b":9,"k":0.65,"f":404},{"b":9,"k":0.7,"f":400},{"b":9,"k":0.75,"f":395},{"b":9,"k":0.788,"f":393},{"b":9,"k":0.83,"f":394},{"b":9,"k":0.87,"f":397},{"b":9,"k":0.91,"f":401},{"b":9,"k":0.95,"f":404},{"b":9,"k":1,"f":406}],
 "dN": [
{"b":1,"k":0,"f":150},{"b":1,"k":0.04,"f":148},{"b":1,"k":0.08,"f":145},{"b":1,"k":0.12,"f":137},{"b":1,"k":0.16,"f":122},{"b":1,"k":0.2,"f":105},{"b":1,"k":0.24,"f":85},{"b":1,"k":0.28,"f":60},{"b":1,"k":0.32,"f":30},{"b":1,"k":0.367,"f":0},{"b":1,"k":0.42,"f":14},{"b":1,"k":0.46,"f":31},{"b":1,"k":0.5,"f":55},{"b":1,"k":0.55,"f":86},{"b":1,"k":0.6,"f":118},{"b":1,"k":0.65,"f":148},{"b":1,"k":0.7,"f":169},{"b":1,"k":0.75,"f":176},{"b":1,"k":0.788,"f":178},{"b":1,"k":0.83,"f":178},{"b":1,"k":0.87,"f":176},{"b":1,"k":0.91,"f":165},{"b":1,"k":0.95,"f":155},{"b":1,"k":1,"f":151},
{"b":2,"k":0,"f":170},{"b":2,"k":0.04,"f":165},{"b":2,"k":0.08,"f":155},{"b":2,"k":0.12,"f":132},{"b":2,"k":0.16,"f":105},{"b":2,"k":0.2,"f":81},{"b":2,"k":0.24,"f":55},{"b":2,"k":0.28,"f":37},{"b":2,"k":0.32,"f":18},{"b":2,"k":0.367,"f":0},{"b":2,"k":0.42,"f":37},{"b":2,"k":0.46,"f":65},{"b":2,"k":0.5,"f":93},{"b":2,"k":0.55,"f":121},{"b":2,"k":0.6,"f":147},{"b":2,"k":0.65,"f":168},{"b":2,"k":0.7,"f":179},{"b":2,"k":0.75,"f":181},{"b":2,"k":0.788,"f":180},{"b":2,"k":0.83,"f":179},{"b":2,"k":0.87,"f":178},{"b":2,"k":0.91,"f":173},{"b":2,"k":0.95,"f":169},{"b":2,"k":1,"f":169},
{"b":3,"k":0,"f":226},{"b":3,"k":0.04,"f":225},{"b":3,"k":0.08,"f":221},{"b":3,"k":0.12,"f":212},{"b":3,"k":0.16,"f":196},{"b":3,"k":0.2,"f":175},{"b":3,"k":0.24,"f":142},{"b":3,"k":0.28,"f":105},{"b":3,"k":0.32,"f":60},{"b":3,"k":0.367,"f":0},{"b":3,"k":0.42,"f":55},{"b":3,"k":0.46,"f":95},{"b":3,"k":0.5,"f":129},{"b":3,"k":0.55,"f":160},{"b":3,"k":0.6,"f":184},{"b":3,"k":0.65,"f":200},{"b":3,"k":0.7,"f":214},{"b":3,"k":0.75,"f":228},{"b":3,"k":0.788,"f":233},{"b":3,"k":0.83,"f":230},{"b":3,"k":0.87,"f":223},{"b":3,"k":0.91,"f":220},{"b":3,"k":0.95,"f":224},{"b":3,"k":1,"f":227},
{"b":4,"k":0,"f":301},{"b":4,"k":0.04,"f":300},{"b":4,"k":0.08,"f":299},{"b":4,"k":0.12,"f":297},{"b":4,"k":0.16,"f":295},{"b":4,"k":0.2,"f":292},{"b":4,"k":0.24,"f":289},{"b":4,"k":0.28,"f":286},{"b":4,"k":0.32,"f":283},{"b":4,"k":0.367,"f":280},{"b":4,"k":0.42,"f":282},{"b":4,"k":0.46,"f":286},{"b":4,"k":0.5,"f":290},{"b":4,"k":0.55,"f":295},{"b":4,"k":0.6,"f":301},{"b":4,"k":0.65,"f":307},{"b":4,"k":0.7,"f":313},{"b":4,"k":0.75,"f":316},{"b":4,"k":0.788,"f":317},{"b":4,"k":0.83,"f":317},{"b":4,"k":0.87,"f":319},{"b":4,"k":0.91,"f":322},{"b":4,"k":0.95,"f":325},{"b":4,"k":1,"f":327},
{"b":5,"k":0,"f":328},{"b":5,"k":0.04,"f":332},{"b":5,"k":0.08,"f":334},{"b":5,"k":0.12,"f":332},{"b":5,"k":0.16,"f":325},{"b":5,"k":0.2,"f":315},{"b":5,"k":0.24,"f":304},{"b":5,"k":0.28,"f":293},{"b":5,"k":0.32,"f":284},{"b":5,"k":0.367,"f":279},{"b":5,"k":0.42,"f":287},{"b":5,"k":0.46,"f":297},{"b":5,"k":0.5,"f":308},{"b":5,"k":0.55,"f":320},{"b":5,"k":0.6,"f":328},{"b":5,"k":0.65,"f":332},{"b":5,"k":0.7,"f":334},{"b":5,"k":0.75,"f":335},{"b":5,"k":0.788,"f":335},{"b":5,"k":0.83,"f":339},{"b":5,"k":0.87,"f":344},{"b":5,"k":0.91,"f":349},{"b":5,"k":0.95,"f":352},{"b":5,"k":1,"f":354},
{"b":6,"k":0,"f":352},{"b":6,"k":0.04,"f":351},{"b":6,"k":0.08,"f":351},{"b":6,"k":0.12,"f":352},{"b":6,"k":0.16,"f":354},{"b":6,"k":0.2,"f":357},{"b":6,"k":0.24,"f":361},{"b":6,"k":0.28,"f":366},{"b":6,"k":0.32,"f":371},{"b":6,"k":0.367,"f":376},{"b":6,"k":0.42,"f":374},{"b":6,"k":0.46,"f":368},{"b":6,"k":0.5,"f":361},{"b":6,"k":0.55,"f":352},{"b":6,"k":0.6,"f":347},{"b":6,"k":0.65,"f":342},{"b":6,"k":0.7,"f":338},{"b":6,"k":0.75,"f":335},{"b":6,"k":0.788,"f":334},{"b":6,"k":0.83,"f":330},{"b":6,"k":0.87,"f":322},{"b":6,"k":0.91,"f":313},{"b":6,"k":0.95,"f":306},{"b":6,"k":1,"f":301},
{"b":7,"k":0,"f":361},{"b":7,"k":0.04,"f":362},{"b":7,"k":0.08,"f":364},{"b":7,"k":0.12,"f":366},{"b":7,"k":0.16,"f":368},{"b":7,"k":0.2,"f":370},{"b":7,"k":0.24,"f":372},{"b":7,"k":0.28,"f":374},{"b":7,"k":0.32,"f":375},{"b":7,"k":0.367,"f":376},{"b":7,"k":0.42,"f":376},{"b":7,"k":0.46,"f":376},{"b":7,"k":0.5,"f":375},{"b":7,"k":0.55,"f":375},{"b":7,"k":0.6,"f":374},{"b":7,"k":0.65,"f":374},{"b":7,"k":0.7,"f":373},{"b":7,"k":0.75,"f":375},{"b":7,"k":0.788,"f":378},{"b":7,"k":0.83,"f":376},{"b":7,"k":0.87,"f":373},{"b":7,"k":0.91,"f":376},{"b":7,"k":0.95,"f":379},{"b":7,"k":1,"f":383},
{"b":8,"k":0,"f":383},{"b":8,"k":0.04,"f":384},{"b":8,"k":0.08,"f":387},{"b":8,"k":0.12,"f":394},{"b":8,"k":0.16,"f":410},{"b":8,"k":0.2,"f":427},{"b":8,"k":0.24,"f":443},{"b":8,"k":0.28,"f":455},{"b":8,"k":0.32,"f":462},{"b":8,"k":0.367,"f":464},{"b":8,"k":0.42,"f":460},{"b":8,"k":0.46,"f":452},{"b":8,"k":0.5,"f":439},{"b":8,"k":0.55,"f":422},{"b":8,"k":0.6,"f":404},{"b":8,"k":0.65,"f":389},{"b":8,"k":0.7,"f":377},{"b":8,"k":0.75,"f":370},{"b":8,"k":0.788,"f":366},{"b":8,"k":0.83,"f":369},{"b":8,"k":0.87,"f":372},{"b":8,"k":0.91,"f":368},{"b":8,"k":0.95,"f":364},{"b":8,"k":1,"f":361},
{"b":9,"k":0,"f":404},{"b":9,"k":0.04,"f":404},{"b":9,"k":0.08,"f":405},{"b":9,"k":0.12,"f":405},{"b":9,"k":0.16,"f":405},{"b":9,"k":0.2,"f":404},{"b":9,"k":0.24,"f":403},{"b":9,"k":0.28,"f":402},{"b":9,"k":0.32,"f":401},{"b":9,"k":0.367,"f":400},{"b":9,"k":0.42,"f":401},{"b":9,"k":0.46,"f":402},{"b":9,"k":0.5,"f":403},{"b":9,"k":0.55,"f":404},{"b":9,"k":0.6,"f":404},{"b":9,"k":0.65,"f":402},{"b":9,"k":0.7,"f":398},{"b":9,"k":0.75,"f":393},{"b":9,"k":0.788,"f":391},{"b":9,"k":0.83,"f":392},{"b":9,"k":0.87,"f":395},{"b":9,"k":0.91,"f":399},{"b":9,"k":0.95,"f":402},{"b":9,"k":1,"f":404}]
},
"concat": [
 {
  "width": 306, "height": 310,
  "layer": [
   {"data": {"name": "aV"}, "mark": {"type": "circle", "size": 75, "opacity": 1, "color": "#ff0000"},
    "encoding": {
     "x": {"field": "x", "type": "quantitative", "scale": {"domain": [-7, 7], "nice": false, "zero": false}, "axis": {"values": [-5, 0, 5], "title": "DFT Forces (ev/Å)"}},
     "y": {"field": "y", "type": "quantitative", "scale": {"domain": [-7, 7], "nice": false, "zero": false}, "axis": {"values": [-6, -4, -2, 0, 2, 4, 6], "title": "ML Forces (ev/Å)"}}}},
   {"data": {"name": "aN"}, "mark": {"type": "circle", "size": 75, "opacity": 1, "color": "#bfbf00"},
    "encoding": {"x": {"field": "x", "type": "quantitative"}, "y": {"field": "y", "type": "quantitative"}}},
   {"data": {"values": [{}]}, "mark": {"type": "rule", "color": "black", "strokeWidth": 1.5},
    "encoding": {"x": {"datum": -7, "type": "quantitative"}, "y": {"datum": -7, "type": "quantitative"}, "x2": {"datum": 7}, "y2": {"datum": 7}}},
   {"data": {"values": [{}]}, "mark": {"type": "text", "text": "(a)", "fontSize": 20, "color": "black", "align": "center", "baseline": "middle"},
    "encoding": {"x": {"datum": -5.6, "type": "quantitative"}, "y": {"datum": 5.7, "type": "quantitative"}}}
  ]
 },
 {
  "width": 447, "height": 333,
  "layer": [
   {"data": {"name": "cD"}, "mark": {"type": "line", "strokeWidth": 5.5, "interpolate": "monotone", "clip": true},
    "encoding": {
     "x": {"field": "k", "type": "quantitative", "scale": {"domain": [0, 1], "nice": false, "zero": false}, "axis": {"values": [0, 0.317, 0.635, 1], "labelExpr": "datum.value < 0.1 ? 'G' : datum.value < 0.5 ? 'K' : datum.value < 0.9 ? 'M' : 'G'", "title": null}},
     "y": {"field": "f", "type": "quantitative", "scale": {"domain": [0, 762], "nice": false}, "axis": {"values": [0, 100, 200, 300, 400, 500, 600, 700], "title": "Frequency (cm⁻¹)", "titlePadding": 10}},
     "detail": {"field": "b", "type": "nominal"},
     "color": {"datum": "DFT", "type": "nominal", "scale": {"domain": ["DFT", "VASP-MLFF", "NEP"], "range": ["#000000", "#ff0000", "#bfbf00"]},
      "legend": {"title": null, "orient": "none", "legendX": 16.5, "legendY": 82, "symbolType": "M-2,0H2", "symbolSize": 441, "symbolStrokeWidth": 2.5, "labelFontSize": 20, "labelFont": "DejaVu Sans", "labelColor": "#000", "padding": 8, "rowPadding": 8, "symbolOffset": 12, "labelOffset": 31, "strokeColor": "#cccccc", "cornerRadius": 5, "fillColor": "white", "labelLimit": 300,
       "encode": {"symbols": {"update": {"strokeWidth": {"value": 2.5}}}}}}}},
   {"data": {"name": "cV"}, "mark": {"type": "line", "strokeWidth": 4.5, "interpolate": "monotone", "clip": true},
    "encoding": {"x": {"field": "k", "type": "quantitative"}, "y": {"field": "f", "type": "quantitative"}, "detail": {"field": "b", "type": "nominal"}, "color": {"datum": "VASP-MLFF", "type": "nominal"}}},
   {"data": {"name": "cN"}, "mark": {"type": "line", "strokeWidth": 4.5, "interpolate": "monotone", "clip": true},
    "encoding": {"x": {"field": "k", "type": "quantitative"}, "y": {"field": "f", "type": "quantitative"}, "detail": {"field": "b", "type": "nominal"}, "color": {"datum": "NEP", "type": "nominal"}}},
   {"data": {"values": [{}]}, "mark": {"type": "text", "text": "(c)", "fontSize": 20, "color": "black", "align": "center", "baseline": "middle"},
    "encoding": {"x": {"datum": -0.15, "type": "quantitative"}, "y": {"datum": 741, "type": "quantitative"}}}
  ]
 },
 {
  "width": 306, "height": 310,
  "layer": [
   {"data": {"name": "bV"}, "mark": {"type": "circle", "size": 100, "opacity": 1, "color": "#ff0000"},
    "encoding": {
     "x": {"field": "x", "type": "quantitative", "scale": {"domain": [-7, 7], "nice": false, "zero": false}, "axis": {"values": [-5, 0, 5], "title": "DFT Forces (ev/Å)"}},
     "y": {"field": "y", "type": "quantitative", "scale": {"domain": [-7, 7], "nice": false, "zero": false}, "axis": {"values": [-6, -4, -2, 0, 2, 4, 6], "title": "ML Forces (ev/Å)"}}}},
   {"data": {"name": "bN"}, "mark": {"type": "circle", "size": 100, "opacity": 1, "color": "#bfbf00"},
    "encoding": {"x": {"field": "x", "type": "quantitative"}, "y": {"field": "y", "type": "quantitative"}}},
   {"data": {"values": [{}]}, "mark": {"type": "rule", "color": "black", "strokeWidth": 1.5},
    "encoding": {"x": {"datum": -7, "type": "quantitative"}, "y": {"datum": -7, "type": "quantitative"}, "x2": {"datum": 7}, "y2": {"datum": 7}}},
   {"data": {"values": [{}]}, "mark": {"type": "text", "text": "(b)", "fontSize": 20, "color": "black", "align": "center", "baseline": "middle"},
    "encoding": {"x": {"datum": -5.6, "type": "quantitative"}, "y": {"datum": 5.8, "type": "quantitative"}}}
  ]
 },
 {
  "width": 447, "height": 333,
  "layer": [
   {"data": {"name": "dD"}, "mark": {"type": "line", "strokeWidth": 6, "interpolate": "monotone", "clip": true, "color": "#000000"},
    "encoding": {
     "x": {"field": "k", "type": "quantitative", "scale": {"domain": [0, 1], "nice": false, "zero": false}, "axis": {"values": [0, 0.367, 0.788, 1], "labelExpr": "datum.value < 0.1 ? 'M' : datum.value < 0.5 ? 'G' : datum.value < 0.9 ? 'K' : 'M'", "title": null}},
     "y": {"field": "f", "type": "quantitative", "scale": {"domain": [0, 480], "nice": false}, "axis": {"values": [0, 100, 200, 300, 400], "title": "Frequency (cm⁻¹)", "titlePadding": 10}},
     "detail": {"field": "b", "type": "nominal"}}},
   {"data": {"name": "dV"}, "mark": {"type": "line", "strokeWidth": 4.5, "interpolate": "monotone", "clip": true, "color": "#ff0000"},
    "encoding": {"x": {"field": "k", "type": "quantitative"}, "y": {"field": "f", "type": "quantitative"}, "detail": {"field": "b", "type": "nominal"}}},
   {"data": {"name": "dN"}, "mark": {"type": "line", "strokeWidth": 4.5, "interpolate": "monotone", "clip": true, "color": "#bfbf00"},
    "encoding": {"x": {"field": "k", "type": "quantitative"}, "y": {"field": "f", "type": "quantitative"}, "detail": {"field": "b", "type": "nominal"}}},
   {"data": {"values": [{}]}, "mark": {"type": "text", "text": "(d)", "fontSize": 20, "color": "black", "align": "center", "baseline": "middle"},
    "encoding": {"x": {"datum": -0.15, "type": "quantitative"}, "y": {"datum": 468, "type": "quantitative"}}}
  ]
 }
]
}
